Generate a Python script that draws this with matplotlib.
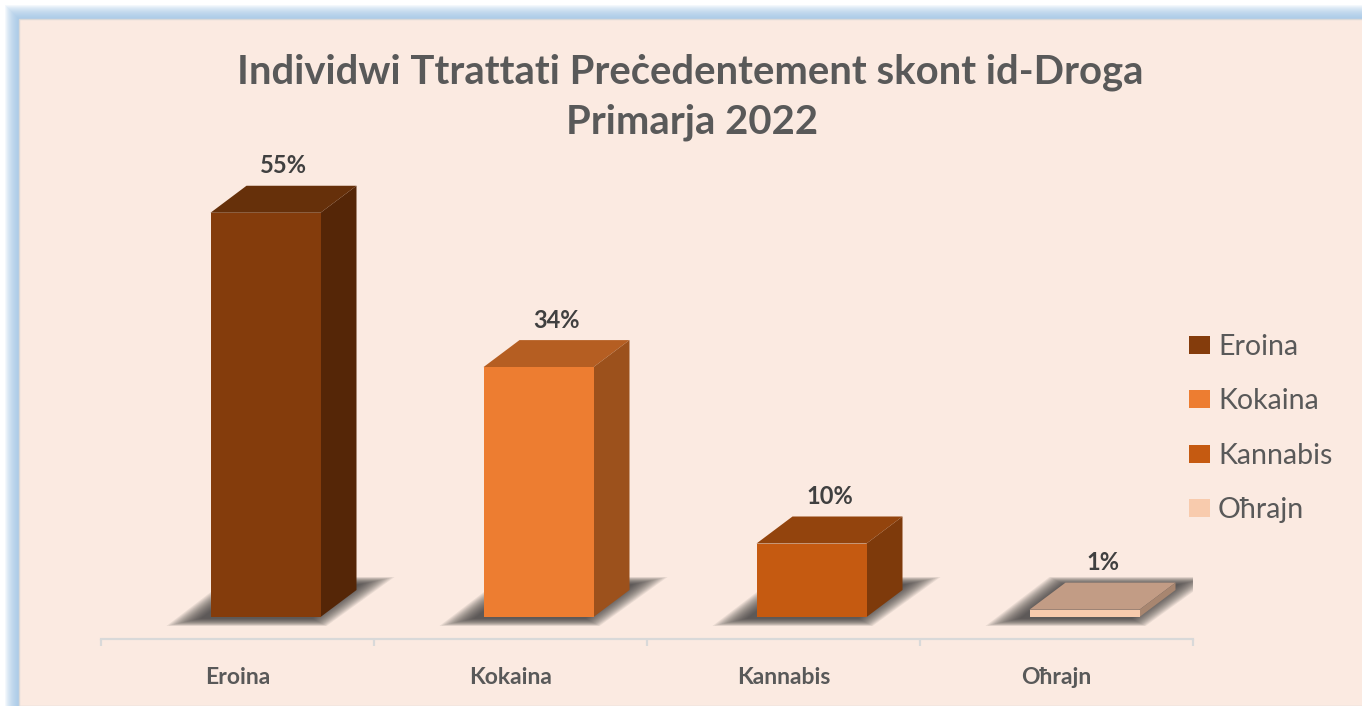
import numpy as np
import matplotlib
matplotlib.use("Agg")
import matplotlib.pyplot as plt
from matplotlib.patches import Polygon, Rectangle

# --- data -------------------------------------------------------------
categories = ["Eroina", "Kokaina", "Kannabis", "Oħrajn"]
shares = [55, 34, 10, 1]
value_labels = ["55%", "34%", "10%", "1%"]
title_lines = ["Individwi Ttrattati Preċedentement skont id-Droga", "Primarja 2022"]

front_colors = ["#843C0C", "#ED7D31", "#C55A11", "#F8CBAD"]
top_colors = ["#66300A", "#B55E22", "#93440D", "#C29C85"]
side_colors = ["#552607", "#9C511C", "#7E3A0B", "#A88670"]

BG = "#FBEAE1"
GREY = "#595959"
W, H = 1362, 706

plt.rcParams['font.family'] = ['Lato', 'DejaVu Sans']

fig = plt.figure(figsize=(W / 100, H / 100), dpi=100)
fig.patch.set_facecolor("white")


def fx(x):
    return x / W


def fy(y):
    return 1 - y / H


# blue glow round the chart area (top and left)
for k in range(14, 0, -1):
    fig.patches.append(Rectangle((fx(19 - k), 0), 1, fy(19 - k), transform=fig.transFigure,
                                 facecolor="#9DC3E6", alpha=0.11, edgecolor="none", zorder=-3))
fig.patches.append(Rectangle((fx(19), 0), 1, fy(19), transform=fig.transFigure,
                             facecolor=BG, edgecolor="#D9D9D9", linewidth=1, zorder=-2))

# --- bar axes ---------------------------------------------------------
ax_left, ax_right, ax_top, ax_bot = 101, 1193, 150, 639
ax = fig.add_axes([fx(ax_left), fy(ax_bot), fx(ax_right - ax_left), (ax_bot - ax_top) / H])
ax.set_facecolor("none")
ppy = 7.35  # pixels per percent
ax.set_xlim(-0.5, 3.5)
ax.set_ylim(-22 / ppy, -22 / ppy + (ax_bot - ax_top) / ppy)

ppx = (ax_right - ax_left) / 4.0
x = np.arange(len(categories))
bar_x = x + 28 / ppx
width = 110 / ppx
ddx, ddy = 36 / ppx, 27 / ppy  # depth of the fake 3D box

# soft shadows on the floor (stacked translucent layers = blur)
for bx, v in zip(bar_x, shares):
    l, r = bx - width / 2, bx + width / 2
    pts = np.array([(l - 44 / ppx, -9 / ppy), (r + 6 / ppx, -9 / ppy),
                    (r + 74 / ppx, 40 / ppy), (l + 20 / ppx, 40 / ppy)])
    c = pts.mean(axis=0)
    for k in range(16):
        shrink = 1 - k * 0.02
        p = c + (pts - c) * shrink
        ax.add_patch(Polygon(p, closed=True, facecolor="#333333", alpha=0.085,
                             edgecolor="none", zorder=2))

ax.bar(bar_x, shares, width, color=front_colors, zorder=4, linewidth=0)

for bx, v, tc, sc in zip(bar_x, shares, top_colors, side_colors):
    l, r = bx - width / 2, bx + width / 2
    ax.add_patch(Polygon([(l, v), (r, v), (r + ddx, v + ddy), (l + ddx, v + ddy)],
                         closed=True, facecolor=tc, edgecolor="none", zorder=3))
    ax.add_patch(Polygon([(r, 0), (r + ddx, ddy), (r + ddx, v + ddy), (r, v)],
                         closed=True, facecolor=sc, edgecolor="none", zorder=3))

for bx, v, lab in zip(bar_x, shares, value_labels):
    ax.annotate(lab, (bx + ddx / 2, v + ddy), xytext=(0, 6), textcoords="offset points",
                ha="center", va="bottom", fontsize=17, fontweight="bold", color="#404040")

for s in ["top", "right", "left"]:
    ax.spines[s].set_visible(False)
ax.spines["bottom"].set_color("#D9D9D9")
ax.spines["bottom"].set_linewidth(1.6)
ax.set_yticks([])
ax.set_xticks(x)
ax.set_xticklabels(categories, fontsize=16.5, fontweight="bold", color=GREY)
ax.tick_params(axis="x", which="major", length=0, pad=20)
ax.set_xticks(np.arange(-0.5, 4, 1), minor=True)
ax.tick_params(axis="x", which="minor", length=5, width=1.6, color="#D9D9D9")

# --- title ------------------------------------------------------------
fig.text(fx(690), fy(72), title_lines[0], ha="center", va="center",
         fontsize=28.8, fontweight="bold", color=GREY)
fig.text(fx(692), fy(122), title_lines[1], ha="center", va="center",
         fontsize=28.8, fontweight="bold", color=GREY)

# --- legend -----------------------------------------------------------
handles = [Rectangle((0, 0), 1, 1, facecolor=c, edgecolor="none") for c in front_colors]
leg = fig.legend(handles, categories, loc="upper left", bbox_to_anchor=(fx(1189), fy(334)),
                 frameon=False, fontsize=20.5, labelspacing=1.0, handlelength=0.72,
                 handleheight=0.6, handletextpad=0.3, borderpad=0, borderaxespad=0)
for t in leg.get_texts():
    t.set_color(GREY)

fig.savefig("out.png", dpi=100, facecolor=fig.get_facecolor())
